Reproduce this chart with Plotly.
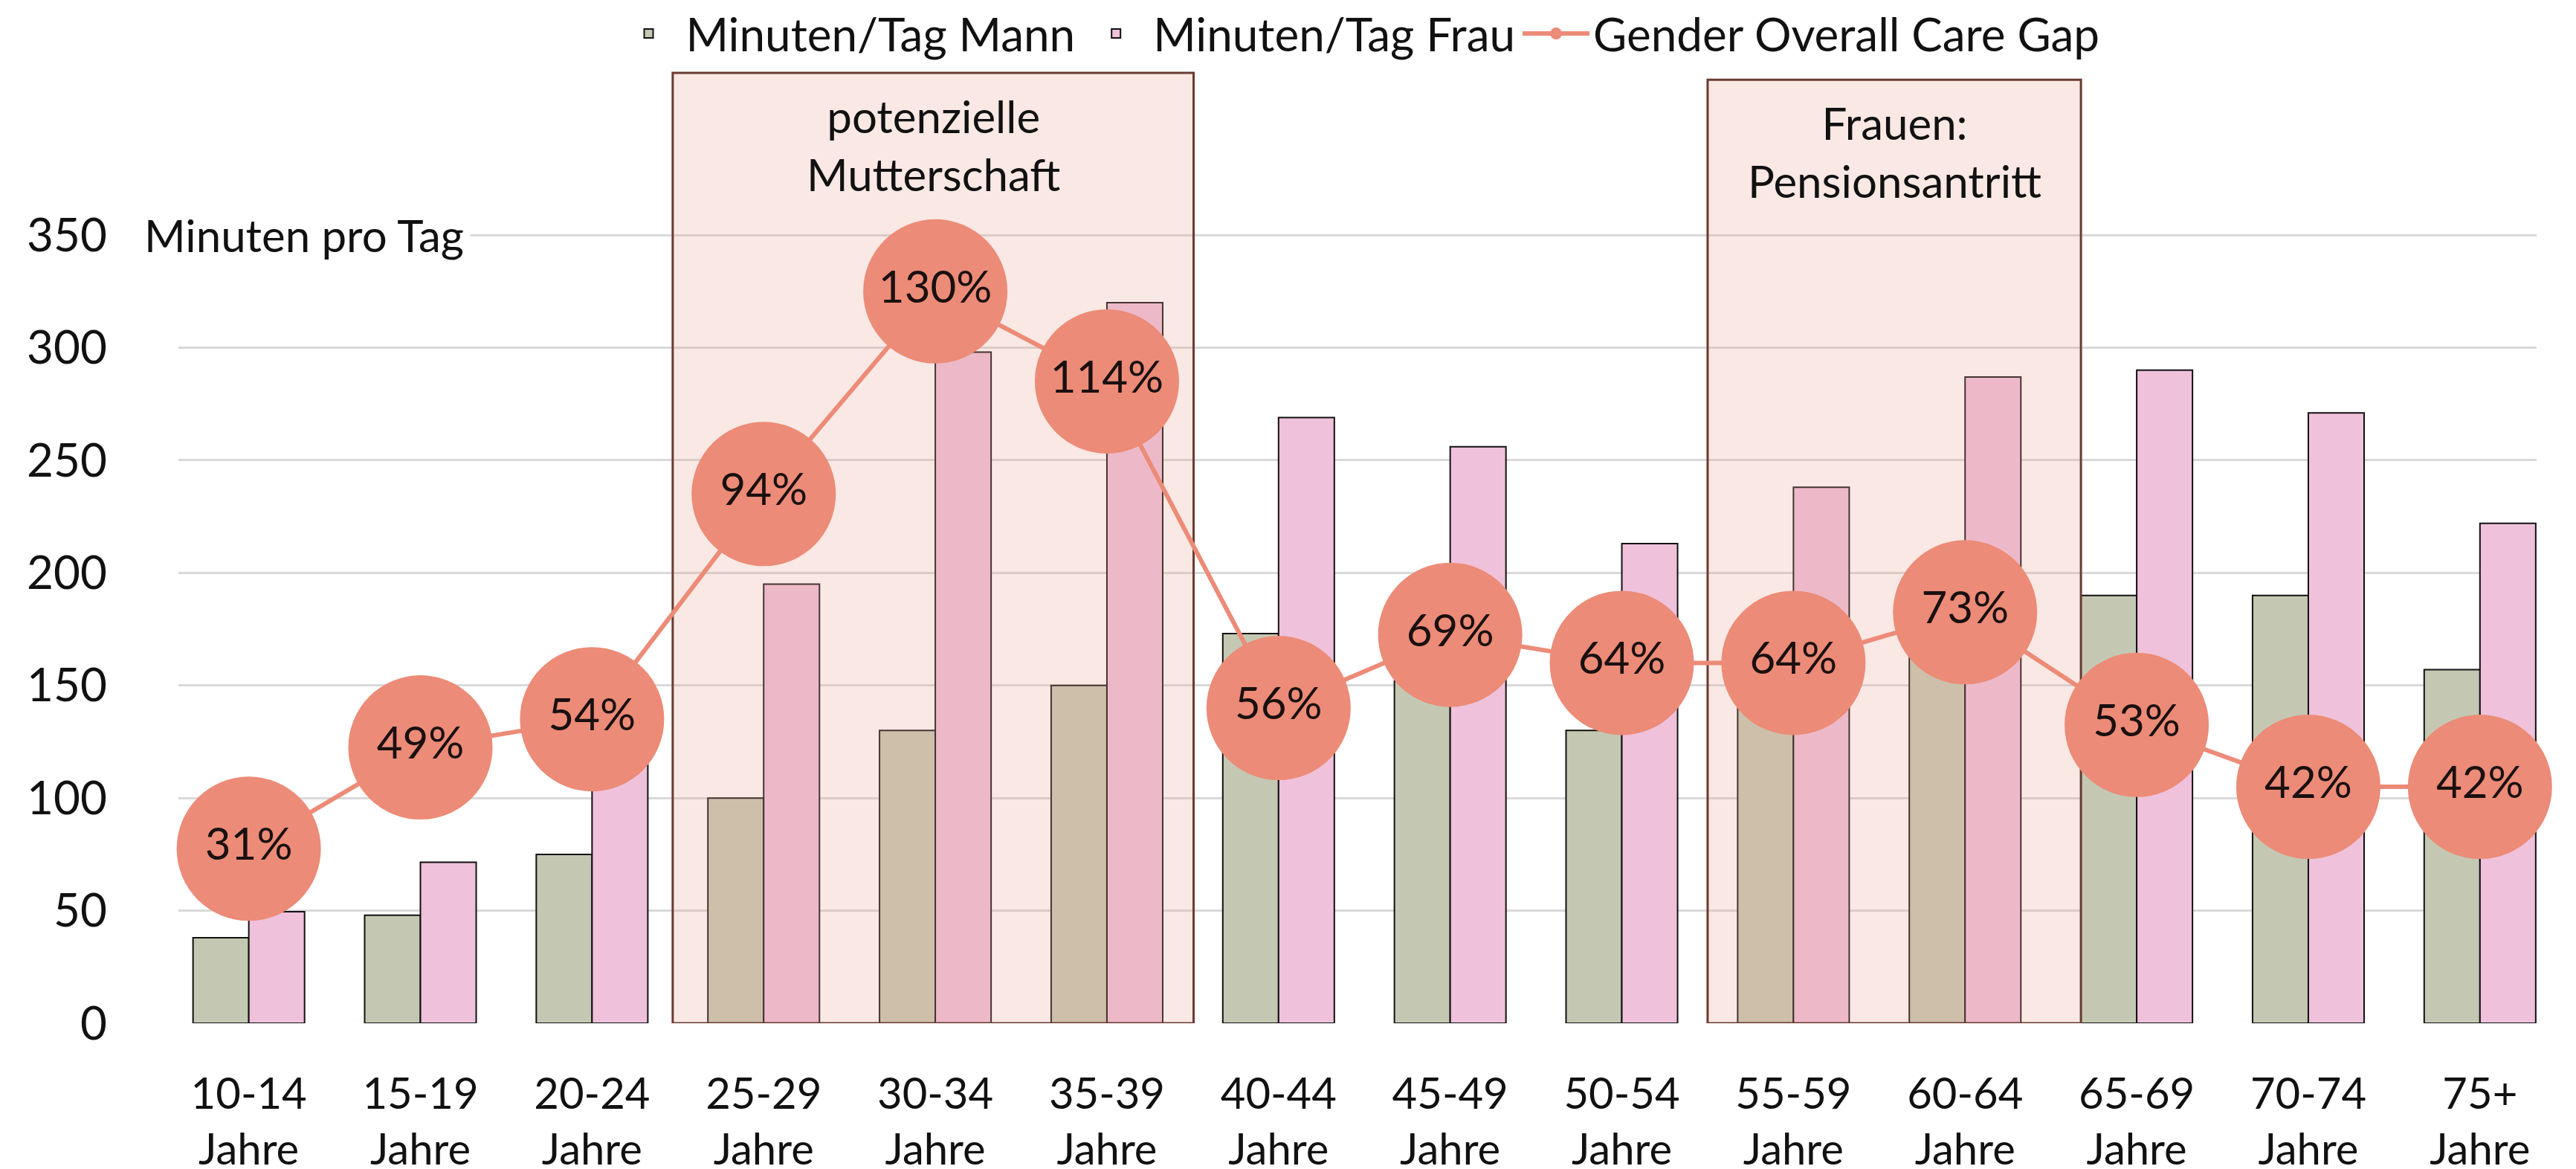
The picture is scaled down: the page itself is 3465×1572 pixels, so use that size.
import plotly.graph_objects as go

categories = ["10-14", "15-19", "20-24", "25-29", "30-34", "35-39", "40-44",
              "45-49", "50-54", "55-59", "60-64", "65-69", "70-74", "75+"]
tick_labels = [c + "<br>Jahre" for c in categories]
mann = [38, 48, 75, 100, 130, 150, 173, 152, 130, 146, 166, 190, 190, 157]
frau = [49.5, 71.5, 115, 195, 298, 320, 269, 256, 213, 238, 287, 290, 271, 222]
gap = [0.31, 0.49, 0.54, 0.94, 1.30, 1.14, 0.56, 0.69, 0.64, 0.64, 0.73, 0.53, 0.42, 0.42]
y_ticks = [0, 50, 100, 150, 200, 250, 300, 350]

# highlighted phases: (x start, x end, top, label, label y)
phases = [
    (2.47, 5.505, 422, "potenzielle<br>Mutterschaft", 390),
    (8.5, 10.675, 419, "Frauen:<br>Pensionsantritt", 387),
]

FONT = "Lato"
SALMON = "#EC8B77"
x = list(range(len(categories)))

fig = go.Figure()
fig.add_trace(go.Bar(
    x=x, y=mann, name="Minuten/Tag Mann",
    marker=dict(color="#C4C8B2", line=dict(color="#111111", width=2)),
))
fig.add_trace(go.Bar(
    x=x, y=frau, name="Minuten/Tag Frau",
    marker=dict(color="#EFC1DB", line=dict(color="#111111", width=2)),
))
for x0, x1, top, label, ly in phases:
    fig.add_trace(go.Scatter(
        x=[x0, x1, x1, x0, x0], y=[0, 0, top, top, 0],
        mode="lines", fill="toself",
        fillcolor="rgba(231,165,149,0.25)",
        line=dict(color="#6A3B30", width=3),
        showlegend=False, hoverinfo="skip",
    ))
    fig.add_annotation(
        x=(x0 + x1) / 2, y=ly, xref="x", yref="y", text=label,
        showarrow=False, font=dict(family=FONT, size=60, color="#111111"),
        align="center",
    )

fig.add_trace(go.Scatter(
    x=x, y=gap, name="Gender Overall Care Gap", yaxis="y2",
    mode="lines+markers+text",
    line=dict(color=SALMON, width=6),
    marker=dict(color=SALMON, size=194),
    text=[f"{round(v * 100)}%" for v in gap],
    textposition="middle center",
    textfont=dict(family=FONT, size=60, color="#1a1010"),
    cliponaxis=False,
))

fig.add_annotation(
    x=0, y=350, xref="paper", yref="y", xanchor="left", yanchor="middle",
    text="Minuten pro Tag", showarrow=False, bgcolor="white",
    xshift=-55, borderpad=8,
    font=dict(family=FONT, size=60, color="#111111"),
)

fig.update_layout(
    width=3465, height=1572,
    paper_bgcolor="white", plot_bgcolor="white",
    font=dict(family=FONT, size=60, color="#111111"),
    margin=dict(l=232, r=61, t=81, b=204, autoexpand=False),
    barmode="group", bargap=0.35, bargroupgap=0,
    showlegend=True,
    legend=dict(orientation="h", x=0.5, xanchor="center", y=1.034, yanchor="middle",
                font=dict(family=FONT, size=62, color="#111111"),
                traceorder="normal", itemwidth=90),
    xaxis=dict(range=[-0.41, 13.33], tickmode="array", tickvals=x, ticktext=tick_labels,
               showgrid=False, zeroline=False, showline=False, ticks="",
               ticklabelstandoff=56,
               tickfont=dict(family=FONT, size=58)),
    yaxis=dict(range=[0, 425], tickmode="array", tickvals=y_ticks,
               showgrid=True, gridcolor="#D9D9D9", gridwidth=3,
               zeroline=False, showline=False, ticks="",
               ticklabelstandoff=95,
               tickfont=dict(family=FONT, size=62)),
    yaxis2=dict(range=[0, 1.7], overlaying="y", visible=False),
)

fig.write_html("out.html")
